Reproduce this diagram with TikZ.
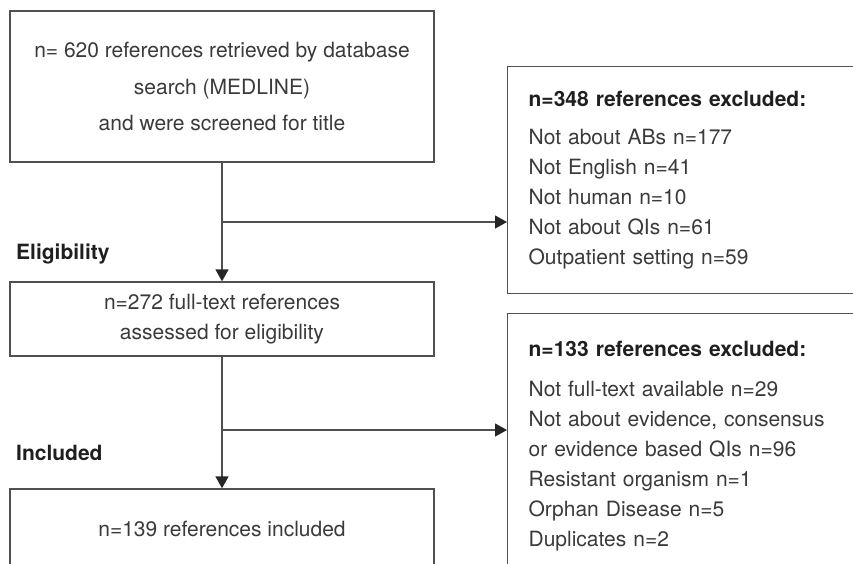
\documentclass[tikz,border=0pt]{standalone}
\usepackage{fontspec}
\setmainfont{TeX Gyre Heros}
\usepackage{xcolor}
\usetikzlibrary{arrows.meta,positioning,calc}
\definecolor{txtgray}{HTML}{3A3A3A}
\definecolor{linegray}{HTML}{505050}

\begin{document}
\begin{tikzpicture}[x=1pt, y=-1pt,
  box/.style={draw=linegray, line width=1.3pt, minimum width=424pt, align=center, text=txtgray, inner sep=0pt, font=\fontsize{21}{30}\selectfont},
  exbox/.style={draw=linegray, line width=1.3pt, anchor=north west, text width=338pt, inner xsep=21pt, inner ysep=0pt, align=left, text=txtgray, font=\fontsize{21}{30}\selectfont},
  lab/.style={font=\fontsize{21}{30}\selectfont\bfseries, text=black!88, anchor=west, inner sep=0pt},
  arr/.style={draw=linegray, line width=1.3pt, -{Triangle[length=12pt,width=13pt,color=black!85]}}
]
\useasboundingbox (0,0) rectangle (853,563);
\clip (0,0) rectangle (853,563);

\node[box, minimum height=151pt, font=\fontsize{21}{36.5}\selectfont] (search) at (222,86.5)
  {n= 620 references retrieved by database\\search (MEDLINE)\\and were screened for title};
\node[box, minimum height=74pt] (fulltext) at (222,319)
  {n=272 full-text references\\assessed for eligibility};
\node[box, minimum height=80pt] (included) at (222,529) {n=139 references included};

\node[exbox, minimum height=227pt] (excl1) at (507,66)
  {\textbf{\color{black!88}n=348 references excluded:}\\[8pt]
   Not about ABs n=177\\
   Not English n=41\\
   Not human n=10\\
   Not about QIs n=61\\
   Outpatient setting n=59};
\node[exbox, minimum height=265pt] (excl2) at (507,313)
  {\textbf{\color{black!88}n=133 references excluded:}\\[10pt]
   Not full-text available n=29\\
   Not about evidence, consensus\\
   or evidence based QIs n=96\\
   Resistant organism n=1\\
   Orphan Disease n=5\\
   Duplicates n=2};

\node[lab] (elig) at (16,254) {Eligibility};
\node[lab] (incl) at (16,453) {Included};

\coordinate (j1) at (222,222);
\coordinate (j2) at (222,430);
\draw[arr] (search) -- (fulltext);
\draw[arr] (j1) -- (j1 -| excl1.west);
\draw[arr] (fulltext) -- (included);
\draw[arr] (j2) -- (j2 -| excl2.west);
\end{tikzpicture}
\end{document}
